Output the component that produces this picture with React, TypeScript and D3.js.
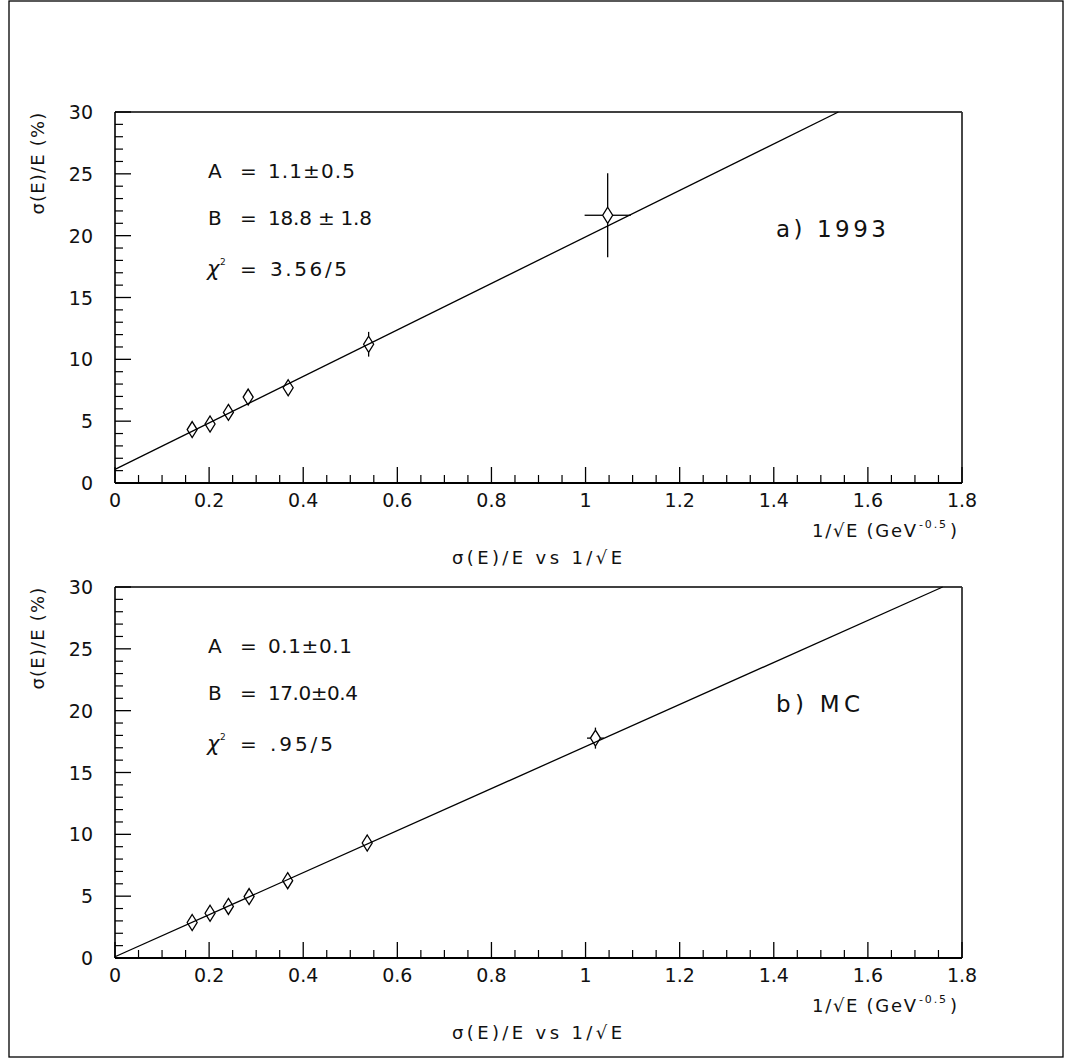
import React from "react";
import * as d3 from "d3";

// ---------- data ----------
const xTickValues = [0, 0.2, 0.4, 0.6, 0.8, 1.0, 1.2, 1.4, 1.6, 1.8];
const xTickLabels = ["0", "0.2", "0.4", "0.6", "0.8", "1", "1.2", "1.4", "1.6", "1.8"];
const yTickValues = [0, 5, 10, 15, 20, 25, 30];
const yTickLabels = ["0", "5", "10", "15", "20", "25", "30"];

const x1993 = [0.164, 0.202, 0.241, 0.283, 0.368, 0.539, 1.047];
const y1993 = [4.32, 4.77, 5.71, 6.95, 7.7, 11.22, 21.65];
const yErr1993 = [0.3, 0.35, 0.4, 0.45, 0.5, 1.0, 3.4];
const xErr1993 = [0, 0, 0, 0, 0, 0, 0.049];

const xMC = [0.164, 0.202, 0.241, 0.285, 0.367, 0.536, 1.021];
const yMC = [2.87, 3.62, 4.17, 4.97, 6.25, 9.3, 17.78];
const yErrMC = [0.2, 0.25, 0.3, 0.35, 0.4, 0.5, 0.85];
const xErrMC = [0, 0, 0, 0, 0, 0, 0.018];

const fitA = [1.1, 0.1];
const fitB = [18.8, 17.0];
const panelTags = ["a) 1993", "b) MC"];
const valA = ["1.1\u00b10.5", "0.1\u00b10.1"];
const valB = ["18.8 \u00b1 1.8", "17.0\u00b10.4"];
const valChi = ["3.56/5", ".95/5"];

const FONT = "'DejaVu Sans', 'Liberation Sans', Arial, sans-serif";

type PanelProps = {
  top: number;
  xs: number[];
  ys: number[];
  yErr: number[];
  xErr: number[];
  A: number;
  B: number;
  tag: string;
  vA: string;
  vB: string;
  vChi: string;
  wA: number;
  wB: number;
  wChi: number;
  wTag: number;
};

function Panel(p: PanelProps) {
  const left = 115, right = 962, height = 371;
  const bottom = p.top + height;
  const x = d3.scaleLinear().domain([0, 1.8]).range([left, right]);
  const y = d3.scaleLinear().domain([0, 30]).range([bottom, p.top]);

  const xMinor = d3.range(0, 1.8001, 0.05).filter((v) => Math.abs(v / 0.2 - Math.round(v / 0.2)) > 1e-6);
  const yMinor = d3.range(0, 30.001, 1).filter((v) => v % 5 !== 0);

  const xEnd = Math.min(1.8, (30 - p.A) / p.B);
  const line = d3.line<number>().x((v) => x(v)).y((v) => y(p.A + p.B * v));
  const fitPath = line([0, xEnd]) || "";

  const hw = 5, hh = 8;
  const txt = { fontFamily: FONT, fill: "#111" };

  return (
    <g>
      {/* frame */}
      <line x1={left} x2={right} y1={p.top} y2={p.top} stroke="#000" strokeWidth={1.3} />
      <line x1={right} x2={right} y1={p.top} y2={bottom} stroke="#333" strokeWidth={1.8} />
      <line x1={left} x2={left} y1={p.top} y2={bottom} stroke="#000" strokeWidth={1.6} />
      <line x1={left} x2={right} y1={bottom} y2={bottom} stroke="#000" strokeWidth={2} />

      {/* y ticks */}
      {yTickValues.map((v) => (
        <line key={"ym" + v} x1={left} x2={left + 16} y1={y(v)} y2={y(v)} stroke="#000" strokeWidth={1.3} />
      ))}
      {yMinor.map((v) => (
        <line key={"yn" + v} x1={left} x2={left + 8} y1={y(v)} y2={y(v)} stroke="#000" strokeWidth={1.2} />
      ))}
      {yTickValues.map((v, i) => (
        <text key={"yl" + v} x={93} y={y(v) + 7} textAnchor="end" fontSize={19} {...txt}>
          {yTickLabels[i]}
        </text>
      ))}

      {/* x ticks */}
      {xTickValues.map((v) => (
        <line key={"xm" + v} x1={x(v)} x2={x(v)} y1={bottom} y2={bottom - 16} stroke="#000" strokeWidth={1.3} />
      ))}
      {xMinor.map((v) => (
        <line key={"xn" + v} x1={x(v)} x2={x(v)} y1={bottom} y2={bottom - 8} stroke="#000" strokeWidth={1.2} />
      ))}
      {xTickValues.map((v, i) => (
        <text key={"xl" + v} x={x(v)} y={bottom + 24} textAnchor="middle" fontSize={19} {...txt}>
          {xTickLabels[i]}
        </text>
      ))}

      {/* axis titles */}
      <text x={812} y={bottom + 54} fontSize={18} {...txt} textLength={104} lengthAdjust="spacing">
        {"1/\u221aE (GeV"}
      </text>
      <text x={919} y={bottom + 45} fontSize={11} {...txt} textLength={27} lengthAdjust="spacing">
        {"-0.5"}
      </text>
      <text x={950} y={bottom + 54} fontSize={18} {...txt}>
        {")"}
      </text>
      <text x={452} y={bottom + 81} fontSize={18} {...txt} textLength={170} lengthAdjust="spacing">
        {"\u03c3(E)/E vs 1/\u221aE"}
      </text>
      <text
        transform={`translate(44, ${p.top + 51}) rotate(-90)`}
        textAnchor="middle"
        fontSize={18}
        letterSpacing={1.2}
        {...txt}
      >
        {"\u03c3(E)/E (%)"}
      </text>

      {/* annotations */}
      <text x={208} y={p.top + 66} fontSize={20} {...txt}>A</text>
      <text x={240} y={p.top + 66} fontSize={20} {...txt}>=</text>
      <text x={268} y={p.top + 66} fontSize={20} {...txt} textLength={p.wA} lengthAdjust="spacing">{p.vA}</text>

      <text x={208} y={p.top + 113} fontSize={20} {...txt}>B</text>
      <text x={240} y={p.top + 113} fontSize={20} {...txt}>=</text>
      <text x={268} y={p.top + 113} fontSize={20} {...txt} textLength={p.wB} lengthAdjust="spacing">{p.vB}</text>

      <text x={207} y={p.top + 164} fontSize={21} fontStyle="italic" {...txt}>{"\u03c7"}</text>
      <text x={220} y={p.top + 153} fontSize={9} {...txt}>{"2"}</text>
      <text x={240} y={p.top + 164} fontSize={20} {...txt}>=</text>
      <text x={270} y={p.top + 164} fontSize={20} {...txt} textLength={p.wChi} lengthAdjust="spacing">{p.vChi}</text>

      <text x={776} y={p.top + 125} fontSize={23} {...txt} textLength={p.wTag} lengthAdjust="spacing">{p.tag}</text>

      {/* fit line */}
      <path d={fitPath} fill="none" stroke="#000" strokeWidth={1.3} />

      {/* points */}
      {p.xs.map((xv, i) => {
        const cx = x(xv), cy = y(p.ys[i]);
        const yTopPx = y(p.ys[i] + p.yErr[i]);
        const yBotPx = y(p.ys[i] - p.yErr[i]);
        const xL = x(xv - p.xErr[i]);
        const xR = x(xv + p.xErr[i]);
        return (
          <g key={"pt" + i}>
            {yTopPx < cy - hh && <line x1={cx} x2={cx} y1={yTopPx} y2={cy - hh} stroke="#000" strokeWidth={1.3} />}
            {yBotPx > cy + hh && <line x1={cx} x2={cx} y1={cy + hh} y2={yBotPx} stroke="#000" strokeWidth={1.3} />}
            {xL < cx - hw && <line x1={xL} x2={cx - hw} y1={cy} y2={cy} stroke="#000" strokeWidth={1.3} />}
            {xR > cx + hw && <line x1={cx + hw} x2={xR} y1={cy} y2={cy} stroke="#000" strokeWidth={1.3} />}
            <path
              d={`M${cx},${cy - hh}L${cx + hw},${cy}L${cx},${cy + hh}L${cx - hw},${cy}Z`}
              fill="none"
              stroke="#000"
              strokeWidth={1.3}
            />
          </g>
        );
      })}
    </g>
  );
}

export default function App() {
  return (
    <svg
      width={1065}
      height={1059}
      style={{ position: "absolute", left: 0, top: 0, background: "#fff" }}
    >
      <rect x={0} y={0} width={1065} height={1059} fill="#fff" />
      <rect x={9} y={1} width={1054} height={1056} fill="none" stroke="#000" strokeWidth={1.3} />
      <Panel
        top={112}
        xs={x1993}
        ys={y1993}
        yErr={yErr1993}
        xErr={xErr1993}
        A={fitA[0]}
        B={fitB[0]}
        tag={panelTags[0]}
        vA={valA[0]}
        vB={valB[0]}
        vChi={valChi[0]}
        wA={87}
        wB={104}
        wChi={77}
        wTag={110}
      />
      <Panel
        top={587}
        xs={xMC}
        ys={yMC}
        yErr={yErrMC}
        xErr={xErrMC}
        A={fitA[1]}
        B={fitB[1]}
        tag={panelTags[1]}
        vA={valA[1]}
        vB={valB[1]}
        vChi={valChi[1]}
        wA={84}
        wB={90}
        wChi={63}
        wTag={84}
      />
    </svg>
  );
}
